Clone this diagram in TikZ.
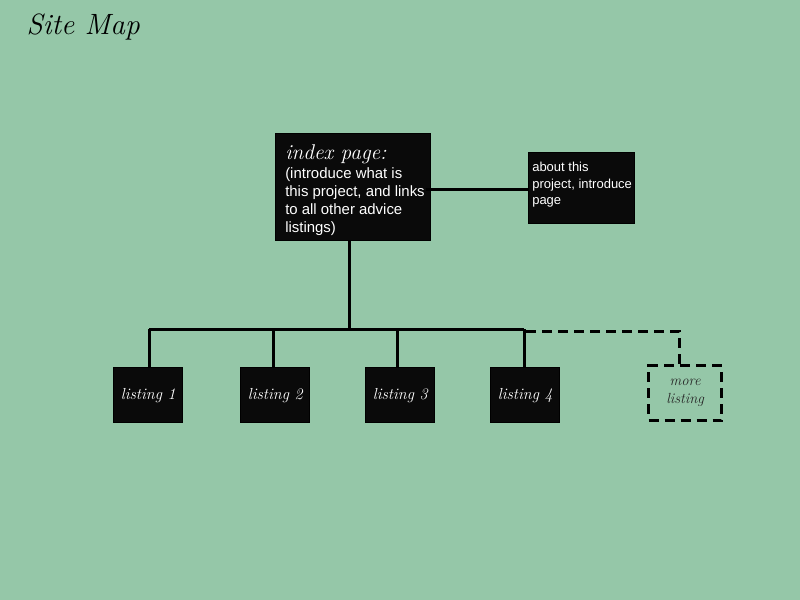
\documentclass[tikz,border=0pt]{standalone}
\usepackage{fontspec}
\newfontfamily\arialf{Liberation Sans}
\definecolor{bg}{RGB}{149,199,168}
\definecolor{boxc}{RGB}{10,10,10}
\begin{document}
\begin{tikzpicture}[x=0.75pt,y=-0.75pt,
  box/.style={draw=black,fill=boxc,line width=0.75pt,inner sep=0pt,anchor=north west},
  lst/.style={box,minimum width=52pt,minimum height=41.5pt,text=white,font=\itshape\fontsize{12}{14}\selectfont},
  conn/.style={line width=2.25pt},
  dconn/.style={line width=2.25pt,dash pattern=on 7.5pt off 4.5pt}]
\fill[bg] (0,0) rectangle (800,600);
\useasboundingbox (0,0) rectangle (800,600);
\node[anchor=west,font=\itshape\fontsize{22}{26}\selectfont] (title) at (22,27) {Site Map};
% index
\node[box,minimum width=116.5pt,minimum height=80.5pt] (index) at (275,133) {};
\node[anchor=north west,inner sep=0pt,text=white,align=left,font=\arialf\fontsize{11.2}{13.5}\selectfont] (indext) at (285,144)
  {{\rmfamily\itshape\fontsize{16}{16}\selectfont index page:}\\[1pt](introduce what is\\this project, and links\\to all other advice\\listings)};
% about
\node[box,minimum width=79.5pt,minimum height=53.5pt] (about) at (528,152) {};
\node[anchor=north west,inner sep=0pt,text=white,align=left,font=\arialf\fontsize{9.75}{12.4}\selectfont] (aboutt) at (532,162)
  {about this\\project, introduce\\page};
\coordinate (aboutstart) at (426,189);
\draw[conn] (aboutstart) -- (about.west |- aboutstart);
% listings
\node[lst] (l1) at (113,367) {listing 1};
\node[lst] (l2) at (240,367) {listing 2};
\node[lst] (l3) at (365,367) {listing 3};
\node[lst] (l4) at (490,367) {listing 4};
\node[draw=black,line width=2.25pt,dash pattern=on 7.5pt off 4.5pt,inner sep=0pt,anchor=north west,minimum width=55pt,minimum height=41pt,align=center,text=black!85,font=\itshape\fontsize{11}{13.5}\selectfont] (more) at (647,364) {more\\listing};
\coordinate (hub) at (349,329);
\coordinate (hl) at (149,329);
\coordinate (hr) at (524,329);
\draw[conn] (index.south -| hub) -- (hub);
\draw[conn] (hl) -- (hr);
\draw[conn] (hl) -- (hl |- l1.north);
\draw[conn] (273,329) -- (273,367);
\draw[conn] (397,329) -- (397,367);
\draw[conn] (hr) -- (hr |- l4.north);
\coordinate (dc) at (679,331);
\draw[dconn] (526,331) -- (dc) -- (dc |- more.north);
\end{tikzpicture}
\end{document}
